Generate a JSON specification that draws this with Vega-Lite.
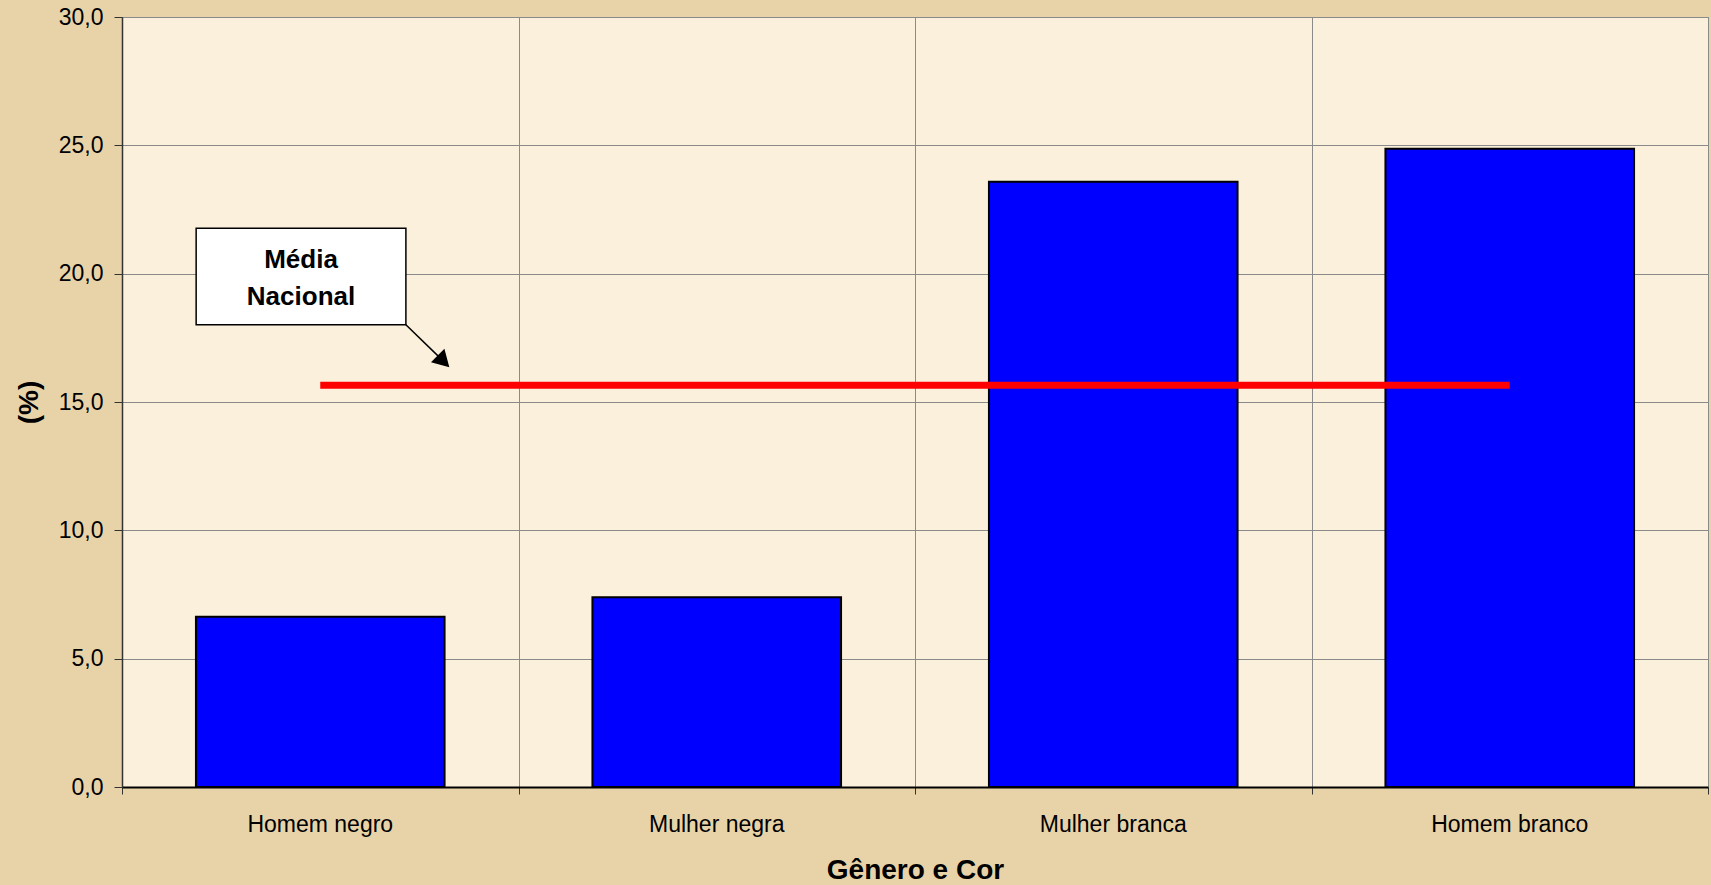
{
  "$schema": "https://vega.github.io/schema/vega-lite/v6.json",
  "width": 1586,
  "height": 770,
  "autosize": {"type": "none"},
  "padding": {"left": 122, "top": 17, "right": 3, "bottom": 98},
  "background": "#E8D3A9",
  "config": {
    "font": "Liberation Sans",
    "view": {"fill": "#FBF0DB", "stroke": "#888888", "strokeWidth": 1},
    "axis": {"labelColor": "#000000", "titleColor": "#000000", "gridColor": "#8a8a8a", "gridWidth": 1, "gridOpacity": 1}
  },
  "layer": [
    {
      "layer": [
        {
          "data": {"values": [
            {"genero": "Homem negro", "valor": 6.63},
            {"genero": "Mulher negra", "valor": 7.39},
            {"genero": "Mulher branca", "valor": 23.58},
            {"genero": "Homem branco", "valor": 24.87}
          ]},
          "mark": {"type": "bar", "fill": "#0000FF", "stroke": "#000000", "strokeWidth": 2},
          "encoding": {
            "x": {"field": "genero", "type": "nominal", "sort": null,
              "scale": {"paddingInner": 0.373, "paddingOuter": 0.1865},
              "axis": {"orient": "bottom", "title": "Gênero e Cor", "labelAngle": 0, "labelFontSize": 23, "labelPadding": 26, "ticks": false, "tickSize": 0, "domain": false, "grid": false, "titleFontSize": 28, "titleFontWeight": "bold", "titlePadding": 20}},
            "y": {"field": "valor", "type": "quantitative", "title": "(%)",
              "scale": {"domain": [0, 30], "nice": false, "zero": true},
              "axis": {"title": "(%)", "values": [0, 5, 10, 15, 20, 25, 30], "labelExpr": "replace(format(datum.value, '.1f'), '.', ',')", "labelFontSize": 23, "tickSize": 8, "tickColor": "#333333", "labelPadding": 11, "titleFontSize": 28, "titleFontWeight": "bold", "titlePadding": 15, "grid": true, "domainColor": "#333333", "domainWidth": 1.5}}
          }
        },
        {
          "data": {"values": [
            {"inicio": "Homem negro", "fim": "Homem branco", "media": 15.65}
          ]},
          "mark": {"type": "rule", "color": "#FF0000", "strokeWidth": 7},
          "encoding": {
            "x": {"field": "inicio", "type": "nominal", "sort": null},
            "x2": {"field": "fim"},
            "y": {"field": "media", "type": "quantitative", "title": "(%)"}
          }
        }
      ]
    },
    {
      "layer": [
        {
          "data": {"values": [{"x0": 0.187, "x1": 0.716, "y0": 18.01, "y1": 21.77}]},
          "mark": {"type": "rect", "fill": "#FFFFFF", "stroke": "#000000", "strokeWidth": 1.5},
          "encoding": {
            "x": {"field": "x0", "type": "quantitative", "title": null,
              "scale": {"domain": [0, 4], "nice": false, "zero": false},
              "axis": {"orient": "bottom", "values": [0, 1, 2, 3, 4], "labels": false, "title": null, "grid": true, "ticks": true, "tickSize": 7, "tickColor": "#333333", "domain": true, "domainColor": "#000000", "domainWidth": 2}},
            "x2": {"field": "x1"},
            "y": {"field": "y0", "type": "quantitative", "title": "(%)"},
            "y2": {"field": "y1"}
          }
        },
        {
          "data": {"values": [{"xt": 0.4515, "yt": 20.53, "rotulo": "Média\nNacional"}]},
          "mark": {"type": "text", "font": "Liberation Sans", "fontSize": 26, "fontWeight": "bold", "color": "#000000", "lineBreak": "\n", "lineHeight": 37, "align": "center", "baseline": "middle"},
          "encoding": {
            "x": {"field": "xt", "type": "quantitative", "title": null},
            "y": {"field": "yt", "type": "quantitative", "title": "(%)"},
            "text": {"field": "rotulo"}
          }
        },
        {
          "data": {"values": [{"ax0": 0.716, "ay0": 18.01, "ax1": 0.806, "ay1": 16.66}]},
          "mark": {"type": "rule", "color": "#000000", "strokeWidth": 1.5},
          "encoding": {
            "x": {"field": "ax0", "type": "quantitative", "title": null},
            "x2": {"field": "ax1"},
            "y": {"field": "ay0", "type": "quantitative", "title": "(%)"},
            "y2": {"field": "ay1"}
          }
        },
        {
          "data": {"values": [{"px": 0.806, "py": 16.66}]},
          "mark": {"type": "point", "shape": "triangle", "angle": 135, "size": 361, "filled": true, "color": "#000000", "opacity": 1},
          "encoding": {
            "x": {"field": "px", "type": "quantitative", "title": null},
            "y": {"field": "py", "type": "quantitative", "title": "(%)"}
          }
        }
      ]
    }
  ],
  "resolve": {"scale": {"x": "independent"}, "axis": {"x": "independent"}}
}
